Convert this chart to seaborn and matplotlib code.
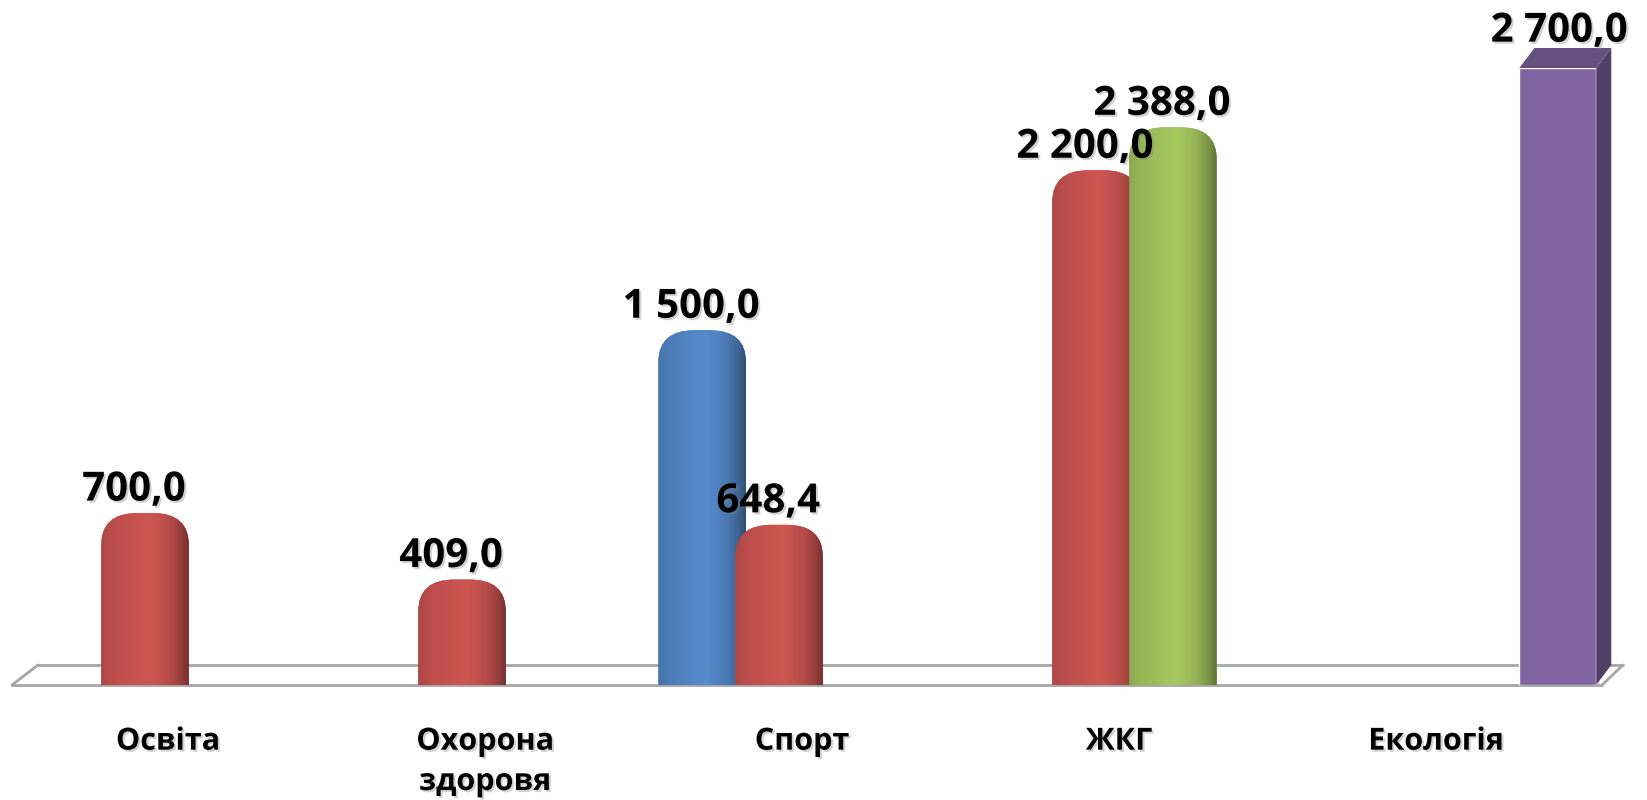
import numpy as np
import pandas as pd
import matplotlib
matplotlib.use("Agg")
import matplotlib.pyplot as plt
import matplotlib.patheffects as pe
from matplotlib.patches import FancyBboxPatch, Polygon
from matplotlib.colors import to_rgb
import seaborn as sns

# data
categories = ["Освіта", "Охорона\nздоровя", "Спорт", "ЖКГ", "Екологія"]
series = ["blue", "red", "green", "purple"]
blue_vals = [np.nan, np.nan, 1500.0, np.nan, np.nan]
red_vals = [700.0, 409.0, 648.4, 2200.0, np.nan]
green_vals = [np.nan, np.nan, np.nan, 2388.0, np.nan]
purple_vals = [np.nan, np.nan, np.nan, np.nan, 2700.0]
colors = ["#4F81BD", "#C0504D", "#9BBB59", "#8064A2"]

rows = []
for name, vals in zip(series, [blue_vals, red_vals, green_vals, purple_vals]):
    for cat, v in zip(categories, vals):
        if not np.isnan(v):
            rows.append({"category": cat, "series": name, "value": v})
df = pd.DataFrame(rows)

sns.set_style("white")
plt.rcParams["font.family"] = ["Open Sans", "DejaVu Sans"]
plt.rcParams["text.color"] = "black"
plt.rcParams["xtick.color"] = "black"

W, H = 1647, 800
fig = plt.figure(figsize=(W / 100, H / 100), dpi=100)
# axes: x spans the whole width, y from the floor (685px) to the top of 2 700 (68px)
ax = fig.add_axes([0, 1 - 685 / H, 1, (685 - 68) / H])

sns.barplot(data=df, x="category", y="value", hue="series", order=categories,
            hue_order=series, palette=colors, width=0.97, dodge=True,
            legend=False, ax=ax, errorbar=None, saturation=1)

xlim = ((0 - 183.5) / 317, (W - 183.5) / 317)
ylim = (0, 2700)
ax.set_xlim(xlim)
ax.set_ylim(ylim)
px_x = W / (xlim[1] - xlim[0])
px_y = (685 - 68) / (ylim[1] - ylim[0])

shadow = [pe.withSimplePatchShadow(offset=(1.5, -1.5), shadow_rgbFace="0.5", alpha=0.35)]
label_kw = dict(ha="center", va="baseline", fontsize=29, fontweight="bold",
                color="black", path_effects=shadow, annotation_clip=False,
                zorder=10, textcoords="offset points")


def fmt(v):
    return f"{v:,.1f}".replace(",", " ").replace(".", ",")


def shade(rgb, n=64):
    t = np.linspace(0, 1, n)
    f = np.interp(t, [0, 0.12, 0.55, 0.78, 0.92, 1.0], [0.9, 0.97, 1.08, 0.95, 0.78, 0.62])
    img = np.clip(np.array(rgb)[None, None, :] * f[None, :, None], 0, 1)
    return img


purple_rgb = to_rgb(colors[3])
for bar in list(ax.patches):
    h = bar.get_height()
    if np.isnan(h) or h == 0:
        continue
    rgb = to_rgb(bar.get_facecolor()[:3])
    cx = bar.get_x() + bar.get_width() / 2
    if np.allclose(rgb, purple_rgb, atol=0.01):
        # flat 3D box, nudged left a little like the perspective in the original
        bar.set_x(bar.get_x() - 9 / px_x)
        cx = bar.get_x() + bar.get_width() / 2
        x0, x1 = bar.get_x(), bar.get_x() + bar.get_width()
        dx, dy = 15 / px_x, 20 / px_y
        bar.set_zorder(3)
        ax.add_patch(Polygon([(x1, 0), (x1 + dx, dy), (x1 + dx, h + dy), (x1, h)],
                             closed=True, facecolor="#523F68", edgecolor="none",
                             zorder=3, clip_on=False))
        ax.add_patch(Polygon([(x0, h), (x0 + dx, h + dy), (x1 + dx, h + dy), (x1, h)],
                             closed=True, facecolor="#65507F", edgecolor="none",
                             zorder=3, clip_on=False))
        ax.annotate(fmt(h), (cx, h), xytext=(1, 19), **label_kw)
        continue
    # rounded cylinder
    bar.set_visible(False)
    nw = bar.get_width() * 1.14
    x0 = cx - nw / 2
    rx = 36 / px_x
    ry = 32 / px_y
    top = h + 12 / px_y
    cyl = FancyBboxPatch((x0, -ry), nw, top + ry,
                         boxstyle=f"round,pad=0,rounding_size={rx}",
                         mutation_aspect=ry / rx, facecolor=rgb,
                         edgecolor="none", zorder=3)
    ax.add_patch(cyl)
    im = ax.imshow(shade(rgb), extent=[x0, x0 + nw, -ry, top], aspect="auto",
                   origin="lower", interpolation="bicubic", zorder=3.1)
    im.set_clip_path(cyl)
    ax.annotate(fmt(h), (cx, top), xytext=(-8, 9), **label_kw)

ax.set_xlim(xlim)
ax.set_ylim(ylim)

# floor of the 3D plot
floor_col = "#A6A6A6"
back = 20 / (685 - 68)
fl = dict(color=floor_col, lw=2, transform=ax.transAxes, clip_on=False, zorder=1)
ax.plot([12 / W, 1602 / W], [0, 0], **fl)
ax.plot([38 / W, 1623 / W], [back, back], **fl)
ax.plot([12 / W, 38 / W], [0, back], **fl)
ax.plot([1602 / W, 1623 / W], [0, back], **fl)

ax.set_xticks(np.arange(len(categories)) - 0.049)
ax.set_xticklabels(categories, fontsize=22, fontweight="bold", linespacing=1.45,
                   color="black")
for lbl in ax.get_xticklabels():
    lbl.set_path_effects(shadow)
ax.tick_params(axis="x", length=0, pad=30)
ax.set_yticks([])
ax.set_xlabel("")
ax.set_ylabel("")
sns.despine(ax=ax, left=True, bottom=True)
ax.patch.set_alpha(0)

fig.savefig("out.png", dpi=100)
